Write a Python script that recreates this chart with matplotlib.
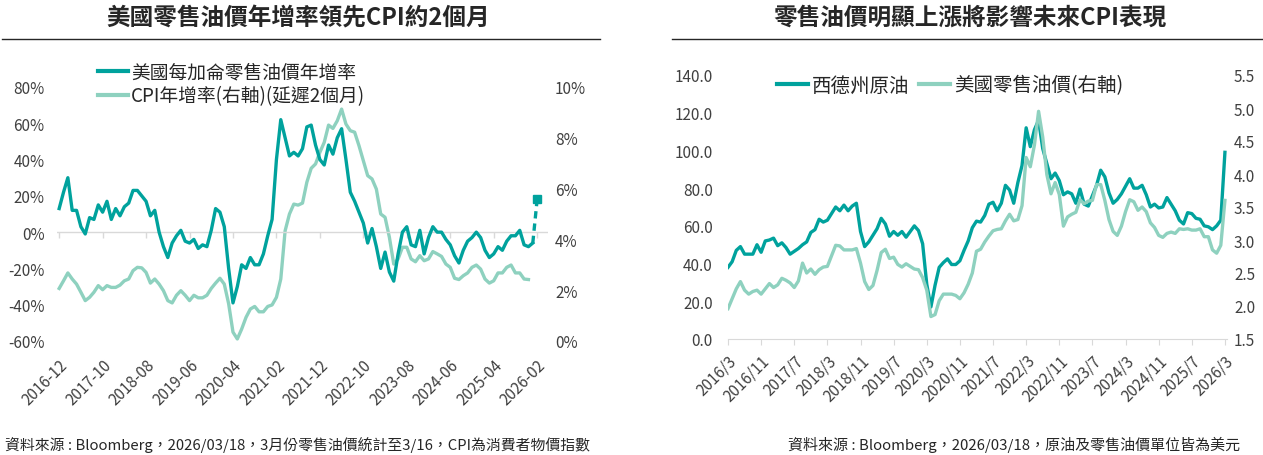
import matplotlib.pyplot as plt
import numpy as np
from matplotlib.lines import Line2D

plt.rcParams['font.family'] = ['Noto Sans CJK TC', 'DejaVu Sans']

DARK = '#00A29D'
LIGHT = '#8ED1BF'
TXT = '#404040'
GRID = '#d9d9d9'

# ---- left chart: monthly YoY, 2016-12 .. 2026-02 (oil), 2026-03 partial month
oil_yoy = [13, 22, 30, 12, 12, 3, -1, 8, 7, 15, 11, 17, 7, 13, 9, 14, 16, 23, 23, 20,
           17, 9, 12, 0, -8, -14, -6, -2, 1, -5, -6, -4, -9, -7, -8, 1, 13, 11, 3, -20,
           -39, -30, -18, -20, -14, -18, -18, -12, -2, 7, 40, 62, 52, 42, 44, 42, 46, 58, 59, 48,
           40, 37, 48, 43, 52, 57, 40, 22, 17, 11, 5, -6, 2, -8, -20, -11, -22, -27, -12, 0,
           3, -7, -8, 1, -12, -3, 3, 0, 0, -4, -7, -13, -17, -10, -5, -3, 0, -3, -10, -14,
           -12, -8, -10, -5, -2, -2, 1, -7, -8, -6]
oil_yoy_partial = 18
cpi_yoy = [2.07, 2.37, 2.68, 2.44, 2.24, 1.92, 1.59, 1.72, 1.92, 2.18, 2.02, 2.18, 2.11, 2.11, 2.2,
           2.37, 2.44, 2.77, 2.9, 2.88, 2.7, 2.28, 2.44, 2.24, 1.98, 1.59, 1.5, 1.8, 1.98, 1.8,
           1.59, 1.8, 1.7, 1.7, 1.8, 2.07, 2.28, 2.47, 2.24, 1.47, 0.35, 0.08, 0.47, 0.93, 1.26,
           1.36, 1.15, 1.15, 1.36, 1.42, 1.72, 2.44, 4.34, 5.0, 5.39, 5.35, 5.43, 6.25, 6.8, 6.97,
           7.43, 7.82, 8.5, 8.37, 8.67, 9.13, 8.54, 8.28, 8.22, 7.69, 7.1, 6.51, 6.38, 5.98, 5.0,
           4.87, 4.08, 3.03, 3.23, 3.69, 3.69, 3.23, 3.12, 3.36, 3.16, 3.23, 3.52, 3.43, 3.33, 3.03,
           2.9, 2.47, 2.42, 2.57, 2.68, 2.9, 2.99, 2.83, 2.44, 2.28, 2.37, 2.68, 2.68, 2.9, 2.99,
           2.68, 2.68, 2.44, 2.42]
left_labels = ['2016-12', '2017-10', '2018-08', '2019-06', '2020-04', '2021-02',
               '2021-12', '2022-10', '2023-08', '2024-06', '2025-04', '2026-02']

# ---- right chart: monthly, 2016/3 .. 2026/3
wti = [38, 41, 47, 49, 45, 45, 45, 50, 46, 52,
       52.5, 53.5, 49.5, 51, 48.5, 45, 46.5, 48, 50, 51.5, 56.5, 58,
       63.5, 62, 63, 66.5, 70, 68, 71, 68, 70.5, 72, 57, 49,
       51.5, 55, 58.5, 64, 61, 54.5, 57, 55, 57, 54, 57, 60,
       57.5, 50.5, 29, 17, 28.5, 38, 40.5, 42.5, 39.5, 39.5, 41.5, 47,
       52, 59, 62.5, 62, 65.5, 71.5, 72.5, 68, 72, 81.5, 79, 72,
       83, 92, 112, 102, 111, 116, 101, 93, 85, 88, 84, 76.5,
       78, 77, 72, 79.5, 71.5, 70.5, 76, 81.5, 89.5, 86, 77.5, 72,
       74, 77, 81, 85, 80, 80, 81.5, 76.5, 70, 71.5, 69.5, 70,
       75, 71.5, 68, 63, 61, 67, 66.5, 64, 63.5, 60, 59.5, 58,
       60, 63, 99]
gas = [1.96, 2.11, 2.26, 2.37, 2.24, 2.18, 2.22, 2.24, 2.18, 2.26,
       2.34, 2.28, 2.32, 2.42, 2.39, 2.35, 2.28, 2.38, 2.65, 2.50, 2.56, 2.48,
       2.55, 2.59, 2.60, 2.76, 2.92, 2.91, 2.85, 2.85, 2.85, 2.87, 2.65, 2.37,
       2.25, 2.31, 2.54, 2.81, 2.86, 2.72, 2.74, 2.63, 2.59, 2.64, 2.60, 2.56,
       2.55, 2.43, 2.24, 1.84, 1.87, 2.08, 2.18, 2.18, 2.18, 2.16, 2.11, 2.20,
       2.33, 2.50, 2.83, 2.86, 2.97, 3.06, 3.14, 3.16, 3.17, 3.29, 3.39, 3.29,
       3.31, 3.52, 4.25, 4.11, 4.44, 4.95, 4.56, 3.99, 3.70, 3.87, 3.69, 3.21,
       3.35, 3.39, 3.42, 3.61, 3.55, 3.59, 3.60, 3.84, 3.84, 3.60, 3.31, 3.13,
       3.07, 3.21, 3.43, 3.61, 3.58, 3.45, 3.50, 3.43, 3.26, 3.19, 3.07, 3.04,
       3.10, 3.12, 3.10, 3.17, 3.16, 3.17, 3.15, 3.15, 3.17, 3.05, 3.05, 2.85,
       2.80, 2.92, 3.60]
right_labels = ['2016/3', '2016/11', '2017/7', '2018/3', '2018/11', '2019/7', '2020/3',
                '2020/11', '2021/7', '2022/3', '2022/11', '2023/7', '2024/3', '2024/11',
                '2025/7', '2026/3']

W, H = 1263, 456
fig = plt.figure(figsize=(W / 100, H / 100), dpi=100)


def box(x0, y0, x1, y1):
    return [x0 / W, 1 - y1 / H, (x1 - x0) / W, (y1 - y0) / H]


def clean(ax):
    for s in ax.spines.values():
        s.set_visible(False)
    ax.tick_params(length=0, labelsize=11, colors=TXT)


# ================= left chart =================
ax1 = fig.add_axes(box(57, 88, 548, 342))
ax1b = ax1.twinx()
ax1.set_zorder(ax1b.get_zorder() + 1)
ax1.patch.set_visible(False)

xo = np.arange(len(oil_yoy))
ax1.plot(xo, oil_yoy, color=DARK, lw=2.4)
ax1.plot([xo[-1], xo[-1] + 1], [oil_yoy[-1], oil_yoy_partial], color=DARK, lw=2.4,
         ls=(0, (2.2, 1.5)))
ax1.plot([xo[-1] + 1], [oil_yoy_partial], marker='s', ms=5.5, color=DARK)
ax1b.plot(np.arange(len(cpi_yoy)), cpi_yoy, color=LIGHT, lw=2.4)

lt = np.arange(0, 10 * len(left_labels), 10)
ax1.axhline(0, color=GRID, lw=1, zorder=0)
ax1.plot(lt, np.zeros(len(lt)), ls='none', marker=3, ms=4, color=GRID, zorder=0)
ax1.set_xlim(-0.5, 112.5)
ax1.set_ylim(-60, 80)
ax1.set_yticks(range(-60, 81, 20), [f'{v}%' for v in range(-60, 81, 20)])
ax1b.set_ylim(0, 10)
ax1b.set_yticks(range(0, 11, 2), [f'{v}%' for v in range(0, 11, 2)])
ax1.set_xticks(lt, left_labels, rotation=45, ha='right', rotation_mode='anchor')
clean(ax1)
clean(ax1b)
ax1.tick_params(axis='x', pad=11)
ax1.tick_params(axis='y', pad=9)
ax1b.tick_params(axis='y', pad=5)

leg1 = [Line2D([], [], color=DARK, lw=3), Line2D([], [], color=LIGHT, lw=3)]
fig.legend(leg1, ['美國每加侖零售油價年增率', 'CPI年增率(右軸)(延遲2個月)'],
           loc='center left', bbox_to_anchor=(98 / W, 1 - 85 / H), frameon=False,
           fontsize=13.5, handlelength=1.6, handletextpad=0.15, labelspacing=0.15,
           borderpad=0, borderaxespad=0, labelcolor='#262626')

# ================= right chart =================
ax2 = fig.add_axes(box(728, 76, 1227, 340))
ax2b = ax2.twinx()
xm = np.arange(len(wti))
ax2.plot(xm, wti, color=DARK, lw=2.4)
ax2b.plot(xm, gas, color=LIGHT, lw=2.4)
ax2.set_xlim(0, 120.5)
ax2.set_ylim(0, 140)
ax2.set_yticks(range(0, 141, 20), [f'{v:.1f}' for v in range(0, 141, 20)])
ax2b.set_ylim(1.5, 5.5)
rt = np.arange(1.5, 5.51, 0.5)
ax2b.set_yticks(rt, [f'{v:.1f}' for v in rt])
ax2.set_xticks(np.arange(0, 8 * len(right_labels), 8), right_labels,
               rotation=45, ha='right', rotation_mode='anchor')
clean(ax2)
clean(ax2b)
ax2.spines['bottom'].set_visible(True)
ax2.spines['bottom'].set_color(GRID)
ax2.tick_params(axis='x', length=4, color=GRID, pad=5)
ax2.tick_params(axis='y', pad=11)
ax2b.tick_params(axis='y', pad=5)

leg2 = [Line2D([], [], color=DARK, lw=3), Line2D([], [], color=LIGHT, lw=3)]
fig.legend(leg2, ['西德州原油', '美國零售油價(右軸)'], ncol=2,
           loc='center left', bbox_to_anchor=(777 / W, 1 - 86 / H), frameon=False,
           fontsize=14, handlelength=1.6, handletextpad=0.2, columnspacing=0.5,
           borderpad=0, borderaxespad=0, labelcolor='#262626')

# ================= titles, rules, footers =================
fig.text(298 / W, 1 - 18 / H, '美國零售油價年增率領先CPI約2個月', ha='center', va='center',
         fontsize=17, fontweight='bold', color='#262626')
fig.text(970 / W, 1 - 18 / H, '零售油價明顯上漲將影響未來CPI表現', ha='center', va='center',
         fontsize=17, fontweight='bold', color='#262626')
fig.add_artist(Line2D([2 / W, 600 / W], [1 - 40 / H] * 2, color='#262626', lw=1))
fig.add_artist(Line2D([672 / W, 1 / 1], [1 - 40 / H] * 2, color='#262626', lw=1))
fig.text(5 / W, 1 - 445 / H,
         '資料來源 : Bloomberg，2026/03/18，3月份零售油價統計至3/16，CPI為消費者物價指數',
         ha='left', va='center', fontsize=10.7, color='#262626')
fig.text(1240 / W, 1 - 445 / H,
         '資料來源 : Bloomberg，2026/03/18，原油及零售油價單位皆為美元',
         ha='right', va='center', fontsize=10.8, color='#262626')

fig.savefig('out.png', dpi=100)
